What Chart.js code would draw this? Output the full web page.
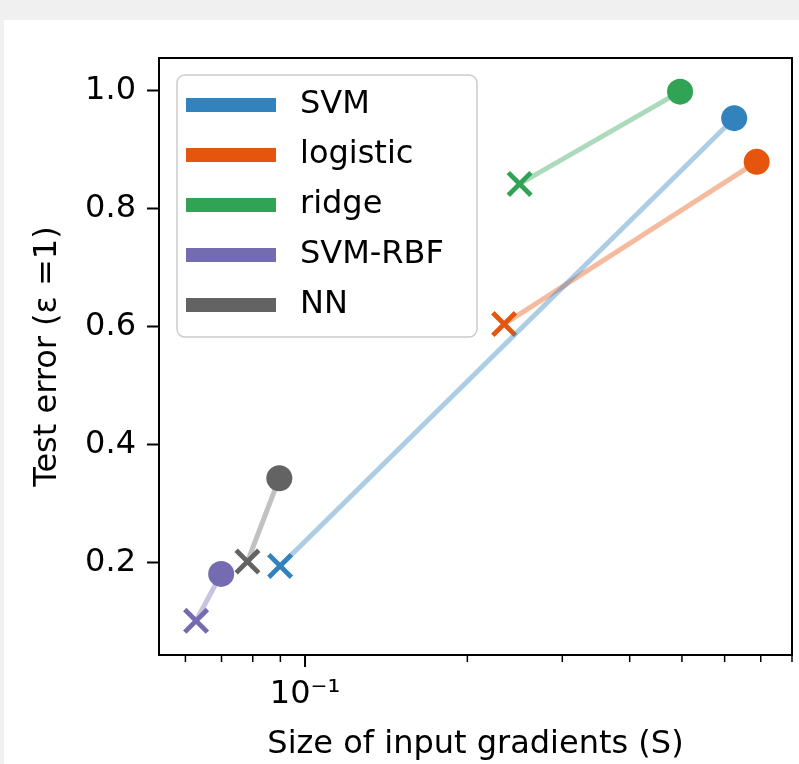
<!DOCTYPE html>
<html><head><meta charset="utf-8">
<script src="https://cdn.jsdelivr.net/npm/chart.js@4/dist/chart.umd.min.js"></script>
<style>
html,body{margin:0;padding:0;background:#f0f0f0;width:799px;height:764px;overflow:hidden;}
#wrap{position:absolute;left:4px;top:20px;width:795px;height:744px;background:#fff;}
canvas{display:block;}
</style></head><body>
<div id="wrap"><canvas id="c" width="795" height="744"></canvas></div>
<script>
const models = ['SVM', 'logistic', 'ridge', 'SVM-RBF', 'NN'];
const colors = ['#3182bd', '#e6550d', '#31a354', '#756bb1', '#636363'];
const crossX = [0.0899, 0.234, 0.250, 0.0628, 0.0782];
const crossY = [0.194, 0.604, 0.8415, 0.101, 0.2014];
const circleX = [0.625, 0.688, 0.496, 0.0699, 0.0896];
const circleY = [0.953, 0.879, 0.998, 0.1805, 0.3427];
const xTicks = [0.06, 0.07, 0.08, 0.09, 0.1, 0.2, 0.3, 0.4, 0.5, 0.6, 0.7, 0.8];
const xMajor = [0.1];
const yTicks = [0.2, 0.4, 0.6, 0.8, 1.0];

Chart.defaults.font.family = "'DejaVu Sans', sans-serif";
Chart.defaults.color = '#000';
const FS = 32;

function rgba(hex, a) {
  const n = parseInt(hex.slice(1), 16);
  return `rgba(${(n >> 16) & 255},${(n >> 8) & 255},${n & 255},${a})`;
}

const datasets = models.map((m, i) => ({
  label: m,
  data: [{x: crossX[i], y: crossY[i]}, {x: circleX[i], y: circleY[i]}],
  showLine: true,
  borderColor: rgba(colors[i], 0.4),
  borderWidth: 5,
  pointStyle: ['crossRot', 'circle'],
  pointRadius: [16, 13],
  pointHoverRadius: [16, 13],
  pointBorderWidth: [4.8, 0],
  pointHoverBorderWidth: [4.8, 0],
  pointBackgroundColor: colors[i],
  pointBorderColor: colors[i],
  clip: false
}));

const framePlugin = {
  id: 'frame',
  afterDraw(chart) {
    const {ctx, chartArea: a, scales: {x}} = chart;
    ctx.save();
    ctx.strokeStyle = '#000';
    x.ticks.forEach(t => {
      const px = x.getPixelForValue(t.value);
      const major = xMajor.includes(t.value);
      ctx.lineWidth = major ? 2 : 1.5;
      ctx.beginPath();
      ctx.moveTo(px, a.bottom);
      ctx.lineTo(px, a.bottom + (major ? 12 : 7));
      ctx.stroke();
    });
    ctx.lineWidth = 2;
    ctx.strokeRect(a.left, a.top, a.right - a.left, a.bottom - a.top);

    // legend
    const bx = a.left + 18, by = a.top + 17, bw = 300, bh = 262, r = 8;
    ctx.beginPath();
    ctx.roundRect(bx, by, bw, bh, r);
    ctx.fillStyle = 'rgba(255,255,255,0.8)';
    ctx.fill();
    ctx.lineWidth = 1.5;
    ctx.strokeStyle = '#cccccc';
    ctx.stroke();
    ctx.font = `${FS}px 'DejaVu Sans'`;
    ctx.textBaseline = 'middle';
    ctx.textAlign = 'left';
    chart.data.datasets.forEach((ds, i) => {
      const cy = by + 30 + i * 50;
      ctx.fillStyle = colors[i];
      ctx.fillRect(bx + 9, cy - 7, 90, 14);
      ctx.fillStyle = '#000';
      ctx.fillText(ds.label, bx + 123, cy);
    });
    ctx.restore();
  }
};

new Chart(document.getElementById('c'), {
  type: 'scatter',
  data: {datasets},
  options: {
    responsive: false,
    animation: false,
    events: [],
    layout: {autoPadding: false, padding: {top: 38, right: 7, left: 0, bottom: 0}},
    plugins: {legend: {display: false}, tooltip: {enabled: false}},
    scales: {
      x: {
        type: 'logarithmic',
        min: 0.0536,
        max: 0.8,
        afterBuildTicks: s => { s.ticks = xTicks.map(v => ({value: v})); },
        afterFit: s => { s.height = 109; s.paddingLeft = 0; s.paddingRight = 0; },
        grid: {display: false, drawTicks: false},
        border: {display: false},
        ticks: {
          autoSkip: false, maxRotation: 0, minRotation: 0, padding: 20,
          font: {size: FS},
          callback: v => xMajor.includes(v) ? '10\u207B\u00B9' : ''
        },
        title: {display: true, text: 'Size of input gradients (S)', font: {size: FS}, padding: {top: 0, bottom: 0}}
      },
      y: {
        type: 'linear',
        min: 0.043,
        max: 1.055,
        afterBuildTicks: s => { s.ticks = yTicks.map(v => ({value: v})); },
        afterFit: s => { s.width = 155; s.paddingTop = 0; s.paddingBottom = 0; },
        grid: {display: true, drawOnChartArea: false, drawTicks: true, tickLength: 12, tickColor: '#000', tickWidth: 2},
        border: {display: false},
        ticks: {padding: 11, font: {size: FS}, callback: v => v.toFixed(1)},
        title: {display: true, text: 'Test error (\u03B5 =1)', font: {size: FS}, padding: {top: 24, bottom: 0}}
      }
    }
  },
  plugins: [framePlugin]
});
</script>
</body></html>
